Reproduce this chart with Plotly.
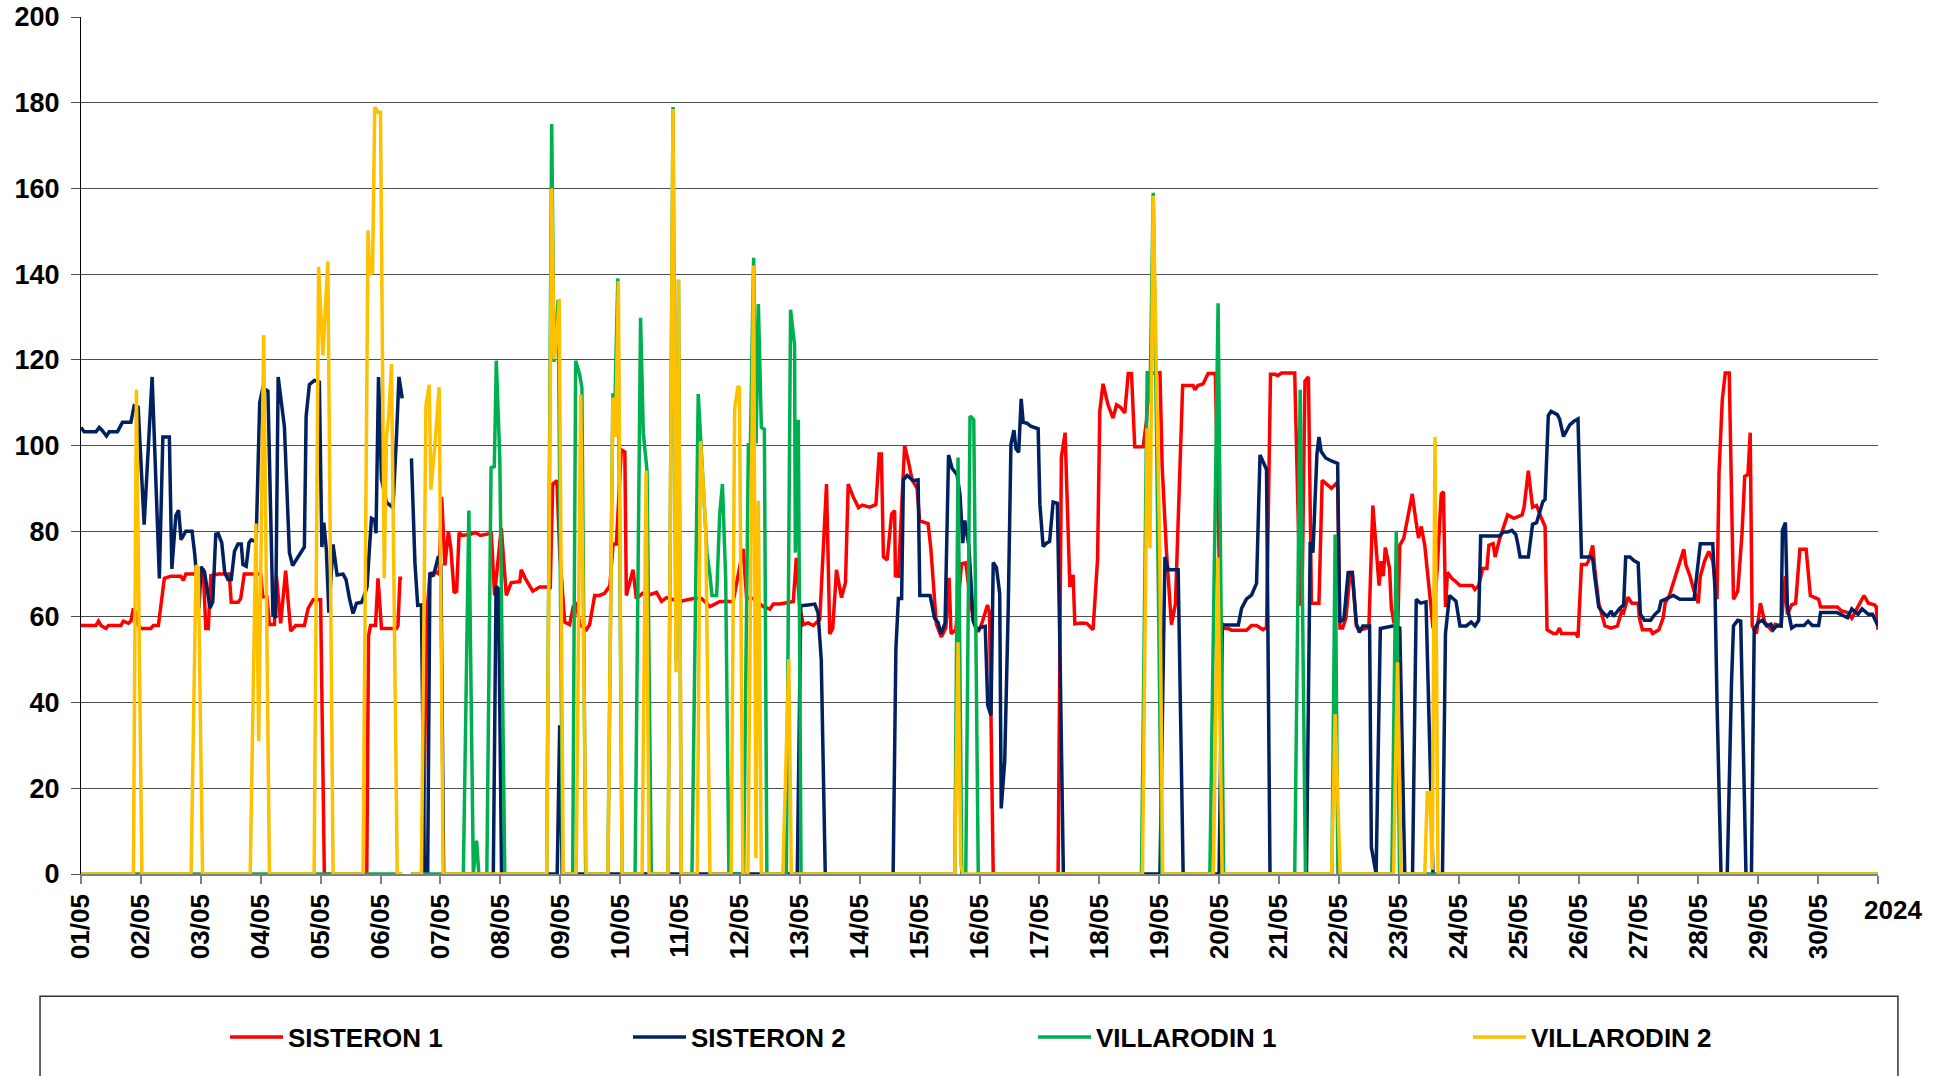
import pandas as pd
import plotly.graph_objects as go

START = pd.Timestamp("2024-05-01 00:00")

# (hours since 01/05 00:00, value)  -- None marks the data gap
SISTERON_1 = [
    (0, 58), (6, 58), (7, 59), (8, 58), (10, 57.3), (11, 58), (16, 58), (17, 59), (19, 58.5), (20, 59),
    (21, 62), (22, 61), (23, 58), (24, 57.3), (28, 57.3), (29, 58), (31, 58), (33.4, 69), (36, 69.5),
    (40, 69.5), (41, 68.5), (42, 70), (45, 70), (48, 70.5), (49, 70.8), (50, 57.3), (51, 57.3), (52, 69.6),
    (55, 70), (59.4, 70), (60.2, 63.4), (63, 63.4), (64, 64.3), (65.4, 70), (72, 70), (72.8, 64.7),
    (74.5, 64.7), (75.5, 58.2), (77.5, 58.2), (78.3, 69.6), (80, 58.5), (82, 70.8), (84, 56.7), (86, 58),
    (89.5, 58), (91, 62), (93, 64), (96, 64), (97.5, 0), (114.5, 0), (115.2, 55.5), (116, 58), (118, 58),
    (119, 69), (120.4, 57.3), (126.4, 57.3), (127, 58), (127.8, 69), (128.7, 69), (130.5, None),
    (132.4, 0), (137, 0), (138.5, 60), (139.8, 70), (142, 70.5), (143.5, 70), (144.5, 88), (145.8, 72),
    (147.2, 80), (148.2, 76), (149.5, 65.6), (150.5, 66), (151.5, 79.6), (153, 79), (156, 79.3),
    (158, 79.7), (160, 79), (163, 79.4), (164.4, 79.5), (165.7, 65), (168.4, 80.8), (170.4, 65),
    (172.4, 68), (175.8, 68.2), (176.4, 71), (178, 69), (181, 66), (183.8, 67), (186.7, 67), (188, 66.5),
    (189, 91), (190.7, 91.8), (191.8, 75), (193.8, 58.8), (195.8, 58.2), (197.2, 62.4), (198.5, 63),
    (199.8, 58.2), (202.5, 57), (203.8, 58.2), (205.8, 65), (207.8, 65), (209.8, 65.5), (211.9, 67.3),
    (213.2, 77), (214.5, 77), (216.5, 99), (217.9, 98.5), (218.5, 65), (221.2, 71), (222.5, 64.3),
    (225, 65.5), (227, 65), (230.6, 65.7), (232.6, 63.6), (234.6, 64.5), (239.9, 63.6), (245.3, 64.3),
    (248.6, 64.3), (252, 62.4), (256, 63.6), (261.3, 63.6), (265.3, 75.9), (266.7, 64.3), (269.3, 64.3),
    (273.4, 62.4), (276, 61.8), (277.4, 63), (280, 63), (285.4, 63.6), (286.6, 73.8), (288, 62.2),
    (289.4, 58.2), (291.3, 58.6), (293.4, 58), (296, 59.4), (298.7, 91), (300, 56), (301.2, 57.3),
    (302.7, 71), (304.7, 64.5), (306.3, 68), (307.4, 91), (309.4, 88), (311.5, 85.5), (313, 86.1),
    (316, 85.6), (318.5, 86.2), (319.8, 98), (320.7, 98), (321.5, 74), (323, 73.3), (324.8, 84),
    (326, 84.8), (326.3, 69.6), (327.5, 69.5), (330, 100), (331.6, 96), (333, 92), (335, 90),
    (336, 82.4), (339.4, 81.8), (340.5, 76), (342.7, 58.4), (344.7, 55.3), (346.5, 57.4), (347.8, 69.1),
    (348.6, 56.1), (350.5, 57), (352.8, 72.4), (354.5, 72.6), (355.7, 67), (357.5, 59.2), (359.5, 56.5),
    (361, 58.6), (363.2, 62.8), (364, 61), (365.5, 0), (391.5, 0), (392.8, 97.2), (394.3, 103),
    (396.2, 67), (397.5, 69.8), (398.2, 58.4), (401, 58.6), (403, 58.5), (405.5, 57), (407.3, 73.4),
    (408.2, 108), (409.5, 114.4), (411.5, 109.5), (413.5, 106.4), (414.9, 109.5), (416.5, 108.9),
    (418.2, 107.6), (419.6, 116.8), (420.9, 116.8), (422.2, 99.7), (425.6, 99.7), (426.9, 105.8),
    (428, 116.8), (432.3, 117), (433.2, 95), (434.9, 75.3), (436.9, 58.2), (438.5, 63), (440.3, 92.4),
    (441.4, 114), (445.6, 114), (446.3, 113), (447.5, 114), (449.6, 114.4), (451.6, 116.8), (454.5, 116.8),
    (456.5, 60), (457.6, 57.3), (459.6, 57.3), (461, 56.9), (467, 56.9), (469, 58), (471, 58), (473.6, 57),
    (475, 57.5), (476.6, 116.6), (478.5, 116.6), (479.5, 116.3), (481, 116.9), (486.3, 116.9),
    (488.5, 63), (489.2, 63), (490.4, 115), (491.8, 116), (493, 63.2), (496, 63.2), (497.3, 91.9),
    (499.3, 91), (501, 90), (502.7, 91), (503.5, 90.3), (504.4, 57.4), (505.5, 57.4), (506.8, 59.7),
    (508.5, 70.4), (509.3, 70.4), (511, 57.9), (512.6, 57), (516, 57.5), (517.6, 86), (518.5, 79.3),
    (520.1, 67.3), (520.9, 73), (521.8, 69.5), (522.6, 76.2), (524.3, 71.3), (525, 62.3), (526, 58.8),
    (527.6, 57.9), (528.4, 76.7), (530, 78.4), (531.7, 83.8), (533.4, 88.7), (534.7, 83), (535.9, 78.4),
    (537, 81.1), (538.4, 76.7), (540.9, 62.3), (541.7, 57.4), (543.4, 71.3), (545, 88.7), (545.9, 89.2),
    (546.7, 62.3), (547.5, 70.4), (549.2, 69), (550.9, 68.2), (552.5, 67.3), (557.5, 67.3), (558.5, 66.4),
    (560, 67.3), (561.6, 71.3), (563.3, 71.3), (564.1, 76.7), (565.8, 77.1), (566.6, 74), (568.3, 78),
    (569.9, 81.1), (571.6, 83.8), (574.1, 83), (577.4, 83.8), (578.2, 85.6), (579.9, 94.1), (581.6, 85.6),
    (583.2, 86), (584.9, 83.4), (586.6, 81.1), (587.4, 57), (589.9, 56.1), (591.2, 56.1), (592.4, 57.4),
    (593.2, 56.1), (599, 56.1), (599.8, 55.2), (601.2, 72.2), (603.2, 72.2), (604, 73), (605.7, 76.7),
    (606.5, 71.3), (608.1, 63.2), (610.6, 57.9), (613.1, 57.4), (615.6, 57.9), (617.3, 61.4), (618.1, 61),
    (619.8, 64.6), (621.4, 63.2), (623.9, 63.2), (624.4, 59.7), (625.6, 57), (628.9, 57), (629.7, 56.1),
    (632.2, 57), (633.9, 59.7), (634.7, 63.2), (636.4, 65), (638.9, 69.5), (640.6, 73), (642.2, 75.8),
    (643, 72.2), (644.7, 69.5), (646.3, 66), (648, 63.2), (648.8, 69.5), (650.5, 73), (652.2, 75.3),
    (653.8, 73), (655.5, 64.1), (656.3, 93.6), (657.6, 110.6), (658.8, 116.9), (660.4, 116.9),
    (661.3, 83.8), (662.1, 64.1), (663.8, 66), (665.5, 79.3), (666.6, 92.8), (667.9, 93.2), (668.8, 103),
    (669.6, 57.9), (671.3, 56.1), (672.9, 63.2), (674.6, 58.8), (677.1, 57), (678.8, 58.3), (681.2, 57.9),
    (682.9, 69.5), (683.7, 60.6), (685.4, 62.8), (687, 63.2), (688.7, 75.8), (691.2, 75.8), (692.9, 65),
    (696.2, 64.1), (697, 62.3), (703.7, 62.3), (705.4, 61.4), (707.8, 61), (709.5, 59.7), (711, 61.4),
    (712, 62.3), (714.4, 65), (716.1, 63.2), (718.6, 62.8), (719.3, 62.3), (720, 57),
]

SISTERON_2 = [
    (0, 104.2), (1.3, 103.2), (6, 103.2), (7.3, 104.2), (8.5, 103.5), (10.2, 102.2), (11.3, 103.2),
    (14.6, 103.2), (16.6, 105.4), (20, 105.4), (21.3, 109.3), (22.9, 109), (25.3, 81.5), (28.5, 116),
    (31.4, 69), (32.8, 102), (35.4, 102), (36.4, 71.2), (38, 83.6), (39.1, 84.9), (40.1, 78), (42, 80),
    (44.5, 80), (45.6, 74.5), (47.3, 62), (48.1, 71.7), (49.5, 70.5), (50.5, 67), (51.7, 62.1),
    (52.8, 63.5), (54, 79.3), (55, 79.4), (56.4, 77.3), (57.6, 70.3), (58.9, 68.7), (60.2, 68.7),
    (61.5, 75.3), (62.9, 77), (64.2, 77), (64.9, 72.2), (66.2, 71.8), (67.3, 77.3), (68.2, 78),
    (69.5, 77.7), (70.2, 78.4), (71.6, 110), (72.9, 113.5), (74.9, 112.7), (75.9, 83.9), (76.9, 60.5),
    (78, 59.8), (79, 116), (81.5, 104.4), (83.5, 75), (84.8, 72), (86.8, 73.8), (89.5, 76.3),
    (90.2, 106.8), (91.5, 114.2), (93.5, 115.2), (95.5, 114.8), (96.5, 76.3), (97.3, 82), (98.3, 75.7),
    (99.3, 61), (101, 76.9), (102.6, 69.8), (105, 70), (106.2, 68.7), (107.6, 64.2), (109, 60.8),
    (110.4, 63.2), (112.4, 63.4), (113.5, 65), (114.6, 67), (115.6, 76.3), (116.4, 83), (117.7, 82.6),
    (118.2, 79.5), (119.2, 116), (120.4, 92.2), (122.4, 86.7), (125, 85.5), (126.4, 102), (127.4, 116),
    (128.7, 111), (130.5, None), (132.4, 97), (133.8, 72.6), (134.9, 62.7), (136.4, 62.8), (137.6, 0),
    (138.9, 0), (139.8, 70.3), (141.2, 69.5), (143.2, 74.2), (144.2, 72), (145.3, 0), (165.2, 0),
    (166.3, 67.1), (167.3, 66.5), (168.5, 0), (190.8, 0), (191.8, 34.7), (192.8, 0), (287, 0),
    (288.4, 62.6), (291.3, 62.8), (294, 63), (295.3, 61), (296.6, 50), (298.2, 0), (325.4, 0),
    (326.5, 52.5), (327.5, 64.3), (328.8, 64.3), (329.5, 92), (331, 93), (333.4, 91.8), (335.4, 92),
    (336.1, 65), (340.2, 65), (342, 59.7), (343.4, 58.7), (344.6, 56), (345.5, 57.5), (346.2, 58.5),
    (347.6, 97.8), (349, 94.7), (351, 93.2), (352.2, 88.5), (353.3, 77.2), (354.1, 82.5), (355.7, 76.8),
    (356.4, 70), (357.5, 59), (358.9, 56.8), (360.7, 57.6), (362.3, 57.8), (363.3, 39.4), (364.6, 37),
    (365.5, 72.7), (366.8, 71.5), (368.1, 65.4), (368.7, 15.3), (370.1, 26.3), (371.5, 61.7),
    (372.6, 100.3), (373.8, 103.6), (374.6, 99.3), (375.7, 98.4), (376.7, 110.9), (377.5, 105.4),
    (379, 105.2), (380.5, 104.5), (383.5, 103.9), (384.2, 86.2), (385.5, 76.4), (386.8, 77.2),
    (388.1, 77.6), (389.5, 86.8), (391.2, 86.5), (392.3, 50), (393.6, 0), (432.3, 0), (434.3, 74),
    (435.6, 71), (439.6, 71), (441.6, 0), (456, 0), (457.3, 58.1), (463.7, 58.1), (465, 62), (467, 64.2),
    (469, 65.1), (471, 67.8), (472.4, 97.8), (474, 95.4), (475, 94.4), (476.4, 0), (491, 0),
    (492.5, 77.5), (493.6, 75), (495.2, 98), (496, 102), (496.9, 98.6), (498.7, 97.1), (501, 96.4),
    (503.5, 95.8), (504.3, 58.8), (506, 59.5), (507.7, 70.3), (509.4, 70.3), (511, 58.4), (512.2, 56.4),
    (513.6, 57.9), (516.3, 57.9), (517, 6.3), (518.9, 0), (520.6, 57.3), (526, 57.9), (528.4, 57.4),
    (530.4, 0), (533.5, 0), (535, 64.1), (536.7, 63.2), (538.9, 63.5), (541.7, 0), (545.5, 0),
    (546.7, 56.1), (548.3, 65), (550.9, 63.7), (552.5, 57.9), (555, 57.9), (557, 58.8), (558.5, 57.9),
    (560, 59.2), (560.8, 78.9), (568.3, 78.9), (569.9, 79.8), (571.6, 79.8), (573.3, 80.2), (574.9, 79.2),
    (575.8, 76.7), (576.6, 74), (579.9, 74), (581.6, 81.6), (583.2, 82), (585.7, 86.9), (586.6, 87.4),
    (587.9, 107), (589, 108), (591.5, 107.2), (592.4, 106.2), (594, 102.1), (596.5, 104.8),
    (598.2, 105.7), (599.8, 106.2), (601.2, 74), (604.8, 74), (605.7, 73.5), (606.5, 69.5), (608.1, 62.3),
    (609.8, 61), (611.5, 60.1), (613.1, 61.4), (614, 60.1), (616.4, 61.9), (618.1, 62.8), (618.9, 74),
    (620.6, 74), (622.3, 73.1), (623.9, 72.6), (624.8, 60.6), (626.4, 59.2), (628.9, 59.2), (630.6, 60.6),
    (632.2, 61.4), (633.1, 63.7), (634.7, 64.1), (638, 65), (640.6, 64.1), (646.3, 64.1), (648.8, 77.1),
    (653.8, 77.1), (654.7, 66), (655.5, 40), (657.1, 0), (659.6, 0), (661.3, 44.5), (662.1, 57.9),
    (663.8, 59.2), (665, 59), (667.1, 0), (669.3, 0), (670.4, 57), (672.1, 58.8), (673.7, 59.2),
    (675.4, 57.9), (677.1, 58.3), (678, 57), (679.4, 57.9), (681.2, 57.9), (681.7, 80.2), (682.9, 82),
    (683.7, 62.3), (685.4, 57.4), (687, 58), (690.4, 58), (692, 59), (693.7, 58), (696.2, 58), (697, 61),
    (703.6, 61), (705.3, 60.6), (707.8, 59.8), (709.5, 61.9), (712, 60.6), (713.6, 61.9), (715.3, 61),
    (716.1, 60.6), (717.8, 60.6), (720, 57.9),
]

VILLARODIN_1 = [
    (0, 0), (128.7, 0), (130.5, None), (132.4, 0),
    (153.2, 0), (155.4, 84.8), (157.2, 0), (158.5, 7.8), (159.4, 0),
    (162.6, 0), (164.3, 94.8), (165.6, 95.1), (166.4, 119.8), (167.8, 97), (169.8, 0),
    (186.6, 0), (188.6, 175), (189.5, 119.5), (191.2, 134), (193, 0),
    (197, 0), (198.2, 119.8), (199.7, 116.8), (200.7, 113.5), (202.2, 0),
    (211.1, 0), (213.1, 111.8), (214, 111.8), (215.1, 139), (216.8, 0),
    (222, 0), (224.2, 129.8), (225.3, 103), (226.8, 94), (228.5, 0),
    (235.2, 0), (237.2, 179), (238.4, 50), (239.4, 138.7), (240.5, 0),
    (244.8, 0), (247.3, 112), (248.8, 96), (250.8, 75), (252, 69.8), (252.8, 65), (254.7, 65),
    (255.9, 84), (257, 91), (258.3, 69), (259.6, 0),
    (265.5, 0), (267.4, 100.2), (268.2, 100.2), (269.5, 143.8), (270.5, 100.5), (271.4, 133),
    (272.6, 104.2), (273.8, 103.8), (274.8, 0),
    (282.6, 0), (284.3, 131.7), (285.9, 123.5), (286.2, 75), (287.4, 106), (288.5, 0),
    (350.1, 0), (351.4, 97.2), (352.9, 0), (354.5, 0), (356.2, 106.9), (357.7, 106), (359.5, 0),
    (424.9, 0), (427.2, 117.4), (428.3, 110), (429.6, 159), (431, 100), (433, 0),
    (452.3, 0), (455.6, 133.2), (457.8, 0),
    (486.3, 0), (488.5, 113), (490.6, 0),
    (501.2, 0), (502.5, 79.2), (503.6, 0),
    (525.2, 0), (527, 80.1), (528.3, 0),
    (720, 0),
]

VILLARODIN_2 = [
    (0, 0), (21, 0), (22.2, 113), (24.4, 0),
    (44.1, 0), (46.1, 72), (47, 71.4), (48.7, 0),
    (67.8, 0), (70.1, 81.8), (71.2, 31), (73.2, 125.8), (75.5, 0),
    (93.4, 0), (95.2, 141.7), (96.9, 121), (98.9, 143), (101, 0),
    (113, 0), (115, 150.2), (115.7, 139.8), (116.8, 140.5), (117.7, 179), (119, 177.8), (120, 177.8),
    (121.5, 69), (122.4, 102), (123.3, 106.8), (124.4, 119), (126.7, 0), (128.7, 0),
    (130.5, None), (132.4, 0),
    (136.4, 0), (138.2, 109.3), (139.5, 114.2), (140.2, 89.7), (141.8, 100.1), (143.5, 113.6), (145.1, 0),
    (186.6, 0), (188.6, 160), (189.6, 120.2), (190.6, 125.2), (191.6, 134.2), (193.2, 0),
    (198.4, 0), (200.2, 111.9), (202.4, 0),
    (211.1, 0), (213.1, 111.2), (214.2, 102), (215.3, 138.4), (216.8, 0),
    (224.8, 0), (226.4, 94.1), (227.6, 0),
    (235.2, 0), (237.2, 178.5), (238.4, 47.1), (239.4, 138.7), (240.5, 0),
    (246.9, 0), (248.2, 101), (250.3, 81), (252, 0),
    (260.5, 0), (261.9, 108.5), (263.2, 113.8), (263.8, 113.5), (265.2, 0),
    (267.2, 0), (269.5, 142), (270.4, 3.7), (271.4, 87.1), (272.6, 0),
    (281.2, 0), (283.6, 50.1), (284.6, 0),
    (350.1, 0), (351.4, 54.1), (352.5, 2), (353.4, 0),
    (425.3, 0), (427.2, 104), (428.3, 76), (429.6, 158.3), (430.8, 115), (432.2, 76), (433.4, 0),
    (453.7, 0), (455.5, 73.9), (457.2, 0),
    (501.1, 0), (502.5, 37.3), (504.5, 0),
    (525.9, 0), (527.5, 49.4), (528.9, 0),
    (538.4, 0), (539.4, 19), (540.4, 19), (541.4, 1), (542.5, 102), (543.7, 0),
    (720, 0),
]

SERIES_NAMES = ["SISTERON 1", "SISTERON 2", "VILLARODIN 1", "VILLARODIN 2"]
SERIES_COLORS = ["#FF0000", "#002060", "#00B050", "#FFC000"]
TICK_LABELS = ["%02d/05" % d for d in range(1, 31)] + [""]
YEAR_LABEL = "2024"

FONT = "Liberation Sans, Arial, sans-serif"

def split(points):
    xs = [START + pd.Timedelta(hours=h) for h, _ in points]
    ys = [v for _, v in points]
    return xs, ys

fig = go.Figure()
legend_ids = ["legend", "legend2", "legend3", "legend4"]
for pts, name, color, lg in zip([SISTERON_1, SISTERON_2, VILLARODIN_1, VILLARODIN_2],
                                SERIES_NAMES, SERIES_COLORS, legend_ids):
    xs, ys = split(pts)
    fig.add_trace(go.Scatter(x=xs, y=ys, mode="lines", name=name, legend=lg, showlegend=True,
                             line=dict(color=color, width=3.5), connectgaps=False))

tickvals = [START + pd.Timedelta(days=d) for d in range(31)]

fig.update_layout(
    width=1949, height=1076,
    showlegend=True,
    margin=dict(l=81, r=71, t=17, b=202, autoexpand=False),
    paper_bgcolor="white", plot_bgcolor="white",
    font=dict(family=FONT, size=26, color="black"),
    xaxis=dict(
        type="date", range=[tickvals[0], tickvals[-1]], automargin=False,
        tickmode="array", tickvals=tickvals, ticktext=TICK_LABELS,
        tickangle=-90, ticks="outside", ticklen=8, tickcolor="#808080", tickwidth=1.5,
        showline=True, linecolor="#808080", linewidth=1.5, showgrid=False, zeroline=False,
        tickfont=dict(family=FONT, size=26, color="black", weight="bold"),
    ),
    yaxis=dict(
        range=[0, 200], dtick=20, tick0=0, automargin=False,
        ticks="outside", ticklen=9, tickcolor="#4d4d4d",
        showline=True, linecolor="black", linewidth=1.2,
        showgrid=True, gridcolor="#4d4d4d", gridwidth=1, zeroline=False,
        tickfont=dict(family=FONT, size=27, color="black", weight="bold"),
        ticklabelstandoff=6,
    ),
    shapes=[dict(type="rect", xref="paper", yref="paper",
                 x0=-0.0228, x1=1.0111, y0=-0.1427, y1=-0.30,
                 line=dict(color="#333333", width=1.5), fillcolor="rgba(0,0,0,0)")],
    annotations=[dict(text=YEAR_LABEL, xref="x", yref="paper", x=tickvals[-1], y=-0.0423,
                      xanchor="center", yanchor="middle", xshift=15, showarrow=False,
                      font=dict(family=FONT, size=26, color="black", weight="bold"))],
)

leg_x = [231, 634, 1039, 1474]
for lg, px in zip(legend_ids, leg_x):
    fig.update_layout({lg: dict(x=(px - 81 - 6) / 1797, y=(874 - 1037) / 857, xanchor="left",
                                yanchor="middle", orientation="h", bgcolor="rgba(0,0,0,0)",
                                borderwidth=0, itemwidth=53, visible=True,
                                font=dict(family=FONT, size=26, color="black", weight="bold"))})

fig.write_html("out.html", config={"displayModeBar": False},
               post_script="document.body.style.margin='0px';")
